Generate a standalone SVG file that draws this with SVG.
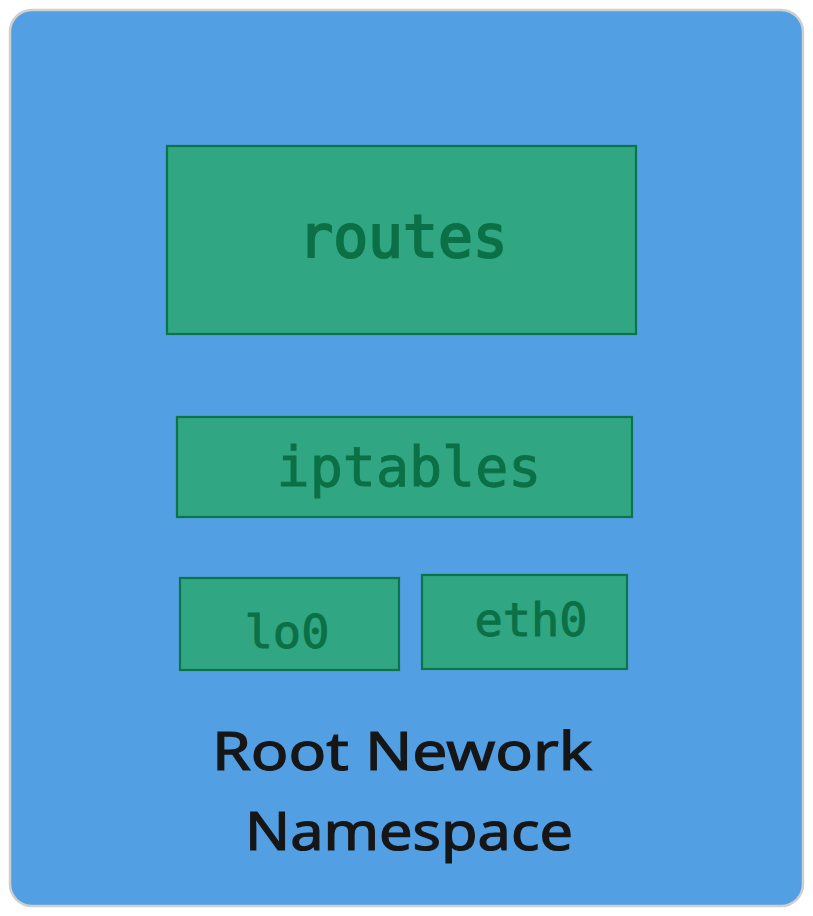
<svg xmlns="http://www.w3.org/2000/svg" width="813" height="916" viewBox="0 0 813 916">
<style>
.box{fill:#31a683;stroke:#0b7548;stroke-width:2.2}
.mono{font-family:"DejaVu Sans Mono","Liberation Mono",monospace;fill:#0b7045;stroke:#0b7045;stroke-width:0.9;text-anchor:middle}
.hand{font-family:"Noto Sans","Liberation Sans",sans-serif;fill:#161616;stroke:#161616;stroke-width:1.2;text-anchor:middle;font-size:52px}
</style>
<rect width="813" height="916" fill="#ffffff"/>
<g id="namespace">
<rect x="10" y="10" width="793" height="896" rx="22" fill="#529fe3" stroke="#cfcfcf" stroke-width="2.5"/>
<text class="hand" x="402" y="770" textLength="380" lengthAdjust="spacingAndGlyphs">Root Nework</text>
<text class="hand" x="409" y="850" textLength="328" lengthAdjust="spacingAndGlyphs">Namespace</text>
</g>
<g id="routes">
<rect class="box" x="167" y="146" width="469" height="188"/>
<text class="mono" x="403" y="257" font-size="58" style="stroke-width:2">routes</text>
</g>
<g id="iptables">
<rect class="box" x="177" y="417" width="455" height="100"/>
<text class="mono" x="409" y="486" font-size="55">iptables</text>
</g>
<g id="lo0">
<rect class="box" x="180" y="578" width="219" height="92"/>
<text class="mono" x="287" y="648" font-size="47">lo0</text>
</g>
<g id="eth0">
<rect class="box" x="422" y="575" width="205" height="94"/>
<text class="mono" x="531" y="636" font-size="47">eth0</text>
</g>
<g id="connectors"/>
</svg>
